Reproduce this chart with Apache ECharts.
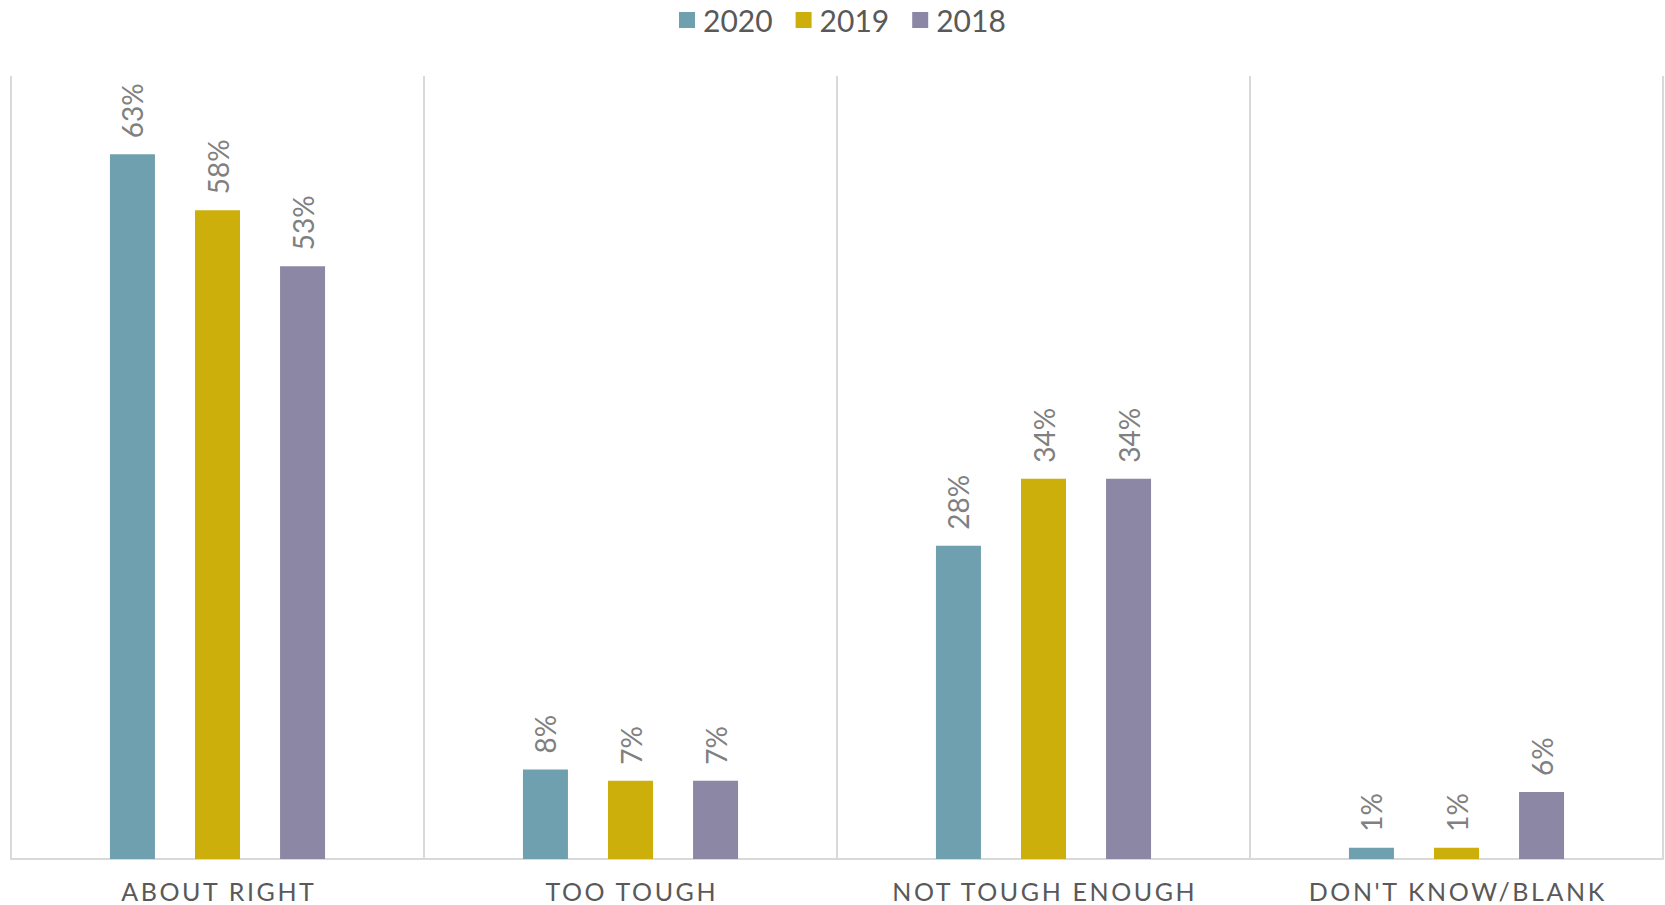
<!DOCTYPE html>
<html>
<head>
<meta charset="utf-8">
<script src="https://cdn.jsdelivr.net/npm/echarts@6/dist/echarts.min.js"></script>
<style>
  html, body { margin: 0; padding: 0; background: #fff; }
  #chart { width: 1665px; height: 905px; }
</style>
</head>
<body>
<div id="chart"></div>
<script>
  const categories = ['ABOUT RIGHT', 'TOO TOUGH', 'NOT TOUGH ENOUGH', "DON'T KNOW/BLANK"]
  const years = ['2020', '2019', '2018']
  const values2020 = [63, 8, 28, 1]
  const values2019 = [58, 7, 34, 1]
  const values2018 = [53, 7, 34, 6]
  const colors = ['#6FA0AF', '#CCAF0A', '#8C87A4']

  const fontFamily = 'Lato, "Open Sans", sans-serif'

  const makeSeries = (name, data, color) => ({
    name: name,
    type: 'bar',
    data: data,
    barWidth: 45,
    barGap: '89%',
    itemStyle: { color: color },
    label: {
      show: true,
      position: 'top',
      rotate: 90,
      align: 'left',
      verticalAlign: 'middle',
      distance: 16,
      formatter: '{c}%',
      color: '#808080',
      fontSize: 28,
      fontFamily: fontFamily
    }
  })

  // svg renderer so the category labels can get letter-spacing like the original
  const myChart = echarts.init(document.getElementById('chart'), null, { renderer: 'svg' })
  const option = {
    animation: false,
    legend: {
      top: 0,
      left: 674,
      itemWidth: 16,
      itemHeight: 16,
      itemGap: 23,
      icon: 'rect',
      textStyle: { color: '#595959', fontSize: 30, fontFamily: fontFamily, padding: [0, 0, 0, 3] },
      data: years
    },
    grid: {
      left: 11,
      right: 2,
      top: 76,
      bottom: 46
    },
    xAxis: {
      type: 'category',
      data: categories,
      axisLine: { lineStyle: { color: '#D9D9D9', width: 2 } },
      axisTick: { show: false },
      splitLine: { show: true, lineStyle: { color: '#D9D9D9', width: 2 } },
      axisLabel: {
        margin: 19,
        color: '#595959',
        fontSize: 25,
        fontFamily: fontFamily
      }
    },
    yAxis: {
      type: 'value',
      min: 0,
      max: 70,
      show: false,
      splitLine: { show: false }
    },
    series: [
      makeSeries(years[0], values2020, colors[0]),
      makeSeries(years[1], values2019, colors[1]),
      makeSeries(years[2], values2018, colors[2])
    ]
  }
  myChart.setOption(option)

  const spaceLabels = () => {
    document.querySelectorAll('#chart text').forEach((t) => {
      if (categories.includes(t.textContent)) {
        t.setAttribute('letter-spacing', '2.6')
        t.setAttribute('dx', '1.3')
      }
    })
  }
  spaceLabels()
  myChart.on('finished', spaceLabels)
</script>
</body>
</html>
